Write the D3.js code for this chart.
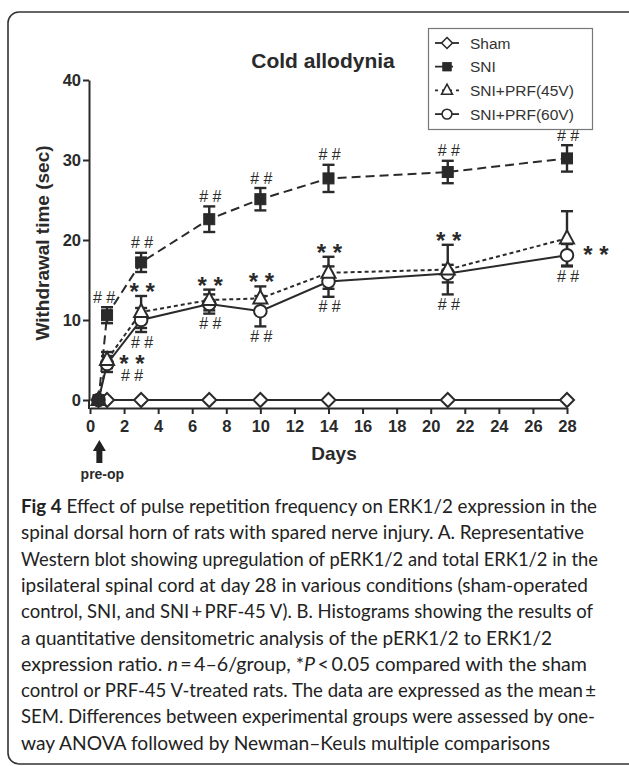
<!DOCTYPE html>
<html>
<head>
<meta charset="utf-8">
<script src="https://cdn.jsdelivr.net/npm/d3@7/dist/d3.min.js"></script>
<style>
  html, body { margin: 0; padding: 0; background: #fff; }
  svg { display: block; }
</style>
</head>
<body>
<svg id="chart" width="629" height="766"></svg>
<script>
// ---------- data ----------
const days      = [0.5, 1, 3, 7, 10, 14, 21, 28];
const shamMean  = [0, 0, 0, 0, 0, 0, 0, 0];
const shamErr   = [0, 0, 0, 0, 0, 0, 0, 0];
const sniMean   = [0, 10.6, 17.2, 22.6, 25.1, 27.7, 28.5, 30.2];
const sniErr    = [0.3, 1.0, 1.2, 1.6, 1.4, 1.7, 1.4, 1.65];
const prf45Mean = [0, 5.0, 11.0, 12.5, 12.7, 15.9, 16.3, 20.2];
const prf45Err  = [0.3, 1.0, 2.0, 1.3, 1.5, 2.0, 3.1, 3.4];
const prf60Mean = [0, 4.5, 10.0, 12.0, 11.1, 14.8, 15.8, 18.1];
const prf60Err  = [0.3, 1.0, 1.5, 1.2, 1.9, 1.9, 1.1, 1.4];
const seriesNames = ["Sham", "SNI", "SNI+PRF(45V)", "SNI+PRF(60V)"];
const xTicks = [0, 2, 4, 6, 8, 10, 12, 14, 16, 18, 20, 22, 24, 26, 28];
const yTicks = [0, 10, 20, 30, 40];
const sniHashDays  = [1, 3, 7, 10, 14, 21, 28];
const starDays     = [3, 7, 10, 14, 21, 28];
const hashBelowDays = [3, 7, 10, 14, 21, 28];
const titleText = "Cold allodynia";
const yLabel = "Withdrawal time (sec)";
const xLabel = "Days";
const captionLines = [
  [["b","Fig 4"],["r"," Effect of pulse repetition frequency on ERK1/2 expression in the"]],
  [["r","spinal dorsal horn of rats with spared nerve injury. A. Representative"]],
  [["r","Western blot showing upregulation of pERK1/2 and total ERK1/2 in the"]],
  [["r","ipsilateral spinal cord at day 28 in various conditions (sham-operated"]],
  [["r","control, SNI, and SNI\u2009+\u2009PRF-45 V). B. Histograms showing the results of"]],
  [["r","a quantitative densitometric analysis of the pERK1/2 to ERK1/2"]],
  [["r","expression ratio. "],["i","n"],["r","\u2009=\u20094\u20136/group, *"],["i","P"],["r","\u2009<\u20090.05 compared with the sham"]],
  [["r","control or PRF-45 V-treated rats. The data are expressed as the mean\u2009\u00b1"]],
  [["r","SEM. Differences between experimental groups were assessed by one-"]],
  [["r","way ANOVA followed by Newman\u2013Keuls multiple comparisons"]]
];
const captionEnds = [597, 584, 598, 588, 593, 552, 587, 596, 595, 550];

// ---------- setup ----------
const svg = d3.select("#chart");
const ink = "#2a2a2a";
const x = d3.scaleLinear().domain([0, 28]).range([90, 567]);
const y = d3.scaleLinear().domain([0, 40]).range([400, 80]);
const xAxisY = 408, yAxisX = 89;

// frame
svg.append("rect").attr("x", 8).attr("y", 12).attr("width", 640).attr("height", 752)
  .attr("rx", 11).attr("fill", "none").attr("stroke", "#333").attr("stroke-width", 1.6);

// title
svg.append("text").attr("x", 323).attr("y", 68).attr("text-anchor", "middle")
  .attr("font-family", "Liberation Sans, Arial, sans-serif").attr("font-weight", "bold")
  .attr("font-size", 21).attr("fill", ink).text(titleText);

// axes
const xAxis = d3.axisBottom(x).tickValues(xTicks).tickSize(6).tickSizeOuter(0).tickPadding(4);
const gx = svg.append("g").attr("transform", `translate(0,${xAxisY})`).call(xAxis);
const yAxis = d3.axisLeft(y).tickValues(yTicks).tickSize(6).tickSizeOuter(0).tickPadding(2);
const gy = svg.append("g").attr("transform", `translate(${yAxisX},0)`).call(yAxis);
[gx, gy].forEach(g => {
  g.selectAll("path.domain").attr("stroke", ink).attr("stroke-width", 2);
  g.selectAll(".tick line").attr("stroke", ink).attr("stroke-width", 2);
  g.selectAll(".tick text").attr("font-family", "Liberation Sans, Arial, sans-serif")
    .attr("font-weight", "bold").attr("font-size", 16.5).attr("fill", ink);
});
gy.append("line").attr("x1", 0).attr("x2", 0).attr("y1", y(0)).attr("y2", xAxisY + 1)
  .attr("stroke", ink).attr("stroke-width", 2);
gx.selectAll(".tick text").attr("dy", "0.85em");

// axis labels
svg.append("text").attr("transform", `translate(49,243) rotate(-90)`).attr("text-anchor", "middle")
  .attr("font-family", "Liberation Sans, Arial, sans-serif").attr("font-weight", "bold")
  .attr("font-size", 19).attr("fill", ink).text(yLabel);
svg.append("text").attr("x", 334).attr("y", 460).attr("text-anchor", "middle")
  .attr("font-family", "Liberation Sans, Arial, sans-serif").attr("font-weight", "bold")
  .attr("font-size", 19).attr("fill", ink).text(xLabel);

// pre-op arrow
const ax = x(0.55);
svg.append("path")
  .attr("d", `M${ax},440 L${ax+6.5},451 L${ax+3},451 L${ax+3},463 L${ax-3},463 L${ax-3},451 L${ax-6.5},451 Z`)
  .attr("fill", "#222");
svg.append("text").attr("x", ax + 3).attr("y", 479).attr("text-anchor", "middle")
  .attr("font-family", "Liberation Sans, Arial, sans-serif").attr("font-weight", "bold")
  .attr("font-size", 14).attr("fill", ink).text("pre-op");

// ---------- series ----------
const series = [
  { name: seriesNames[0], mean: shamMean,  err: shamErr,  dash: null,  marker: "diamond" },
  { name: seriesNames[3], mean: prf60Mean, err: prf60Err, dash: null,  marker: "circle" },
  { name: seriesNames[2], mean: prf45Mean, err: prf45Err, dash: "4,3", marker: "triangle" },
  { name: seriesNames[1], mean: sniMean,   err: sniErr,   dash: "9,5", marker: "square" }
];

function drawMarker(g, type, cx, cy) {
  if (type === "square") {
    g.append("rect").attr("x", cx - 5.5).attr("y", cy - 5.5).attr("width", 11).attr("height", 11)
      .attr("fill", "#2a2a2a").attr("stroke", "#2a2a2a").attr("stroke-width", 1);
  } else if (type === "circle") {
    g.append("circle").attr("cx", cx).attr("cy", cy).attr("r", 6.3)
      .attr("fill", "#fff").attr("stroke", ink).attr("stroke-width", 2);
  } else if (type === "triangle") {
    g.append("path").attr("d", `M${cx},${cy-8} L${cx+7},${cy+5} L${cx-7},${cy+5} Z`)
      .attr("fill", "#fff").attr("stroke", ink).attr("stroke-width", 2);
  } else if (type === "diamond") {
    g.append("path").attr("d", `M${cx},${cy-7} L${cx+7},${cy} L${cx},${cy+7} L${cx-7},${cy} Z`)
      .attr("fill", "#fff").attr("stroke", ink).attr("stroke-width", 2);
  }
}

const lineGen = (s) => d3.line().x((d, i) => x(days[i])).y(d => y(d))(s.mean);
const plot = svg.append("g");
series.forEach(s => {
  plot.append("path").attr("d", lineGen(s)).attr("fill", "none").attr("stroke", ink)
    .attr("stroke-width", 2).attr("stroke-dasharray", s.dash);
});
series.forEach(s => {
  s.mean.forEach((m, i) => {
    if (s.err[i] <= 0) return;
    const cx = x(days[i]);
    const g = plot.append("g").attr("stroke", ink).attr("stroke-width", 2.4);
    g.append("line").attr("x1", cx).attr("x2", cx).attr("y1", y(m + s.err[i])).attr("y2", y(m - s.err[i]));
    [m + s.err[i], m - s.err[i]].forEach(v =>
      g.append("line").attr("x1", cx - 6).attr("x2", cx + 6).attr("y1", y(v)).attr("y2", y(v)));
  });
});
series.forEach(s => {
  s.mean.forEach((m, i) => drawMarker(plot, s.marker, x(days[i]), y(m)));
});

// ---------- significance marks ----------
const annFont = "Liberation Sans, Arial, sans-serif";
function hash(cx, cyCenter) {
  svg.append("text").attr("x", cx).attr("y", cyCenter + 5.5).attr("text-anchor", "middle")
    .attr("font-family", annFont).attr("font-size", 16).attr("fill", ink).text("# #");
}
function stars(cx, cyCenter) {
  svg.append("text").attr("x", cx).attr("y", cyCenter + 13).attr("text-anchor", "middle")
    .attr("font-family", annFont).attr("font-weight", "bold").attr("font-size", 24).attr("fill", ink).text("* *");
}
const idx = d => days.indexOf(d);
sniHashDays.forEach(d => {
  const i = idx(d);
  const top = y(sniMean[i] + sniErr[i]);
  hash(x(d) + (d === 1 ? -3 : 1), top - 10);
});
starDays.forEach(d => {
  const i = idx(d);
  if (d === 28) { stars(x(d) + 29, y(prf60Mean[i]) - 5); return; }
  const top = Math.min(y(prf45Mean[i] + prf45Err[i]), y(prf60Mean[i] + prf60Err[i]));
  stars(x(d) + 1, top - 9);
});
hashBelowDays.forEach(d => {
  const i = idx(d);
  const bot = Math.max(y(prf45Mean[i] - prf45Err[i]), y(prf60Mean[i] - prf60Err[i]));
  hash(x(d) + 1, bot + 10);
});
// day 1: stacked "* *" over "# #" to the right of the point (one text block)
{
  const i = idx(1), cx = x(1) + 25, cy = y(prf45Mean[i]);
  const t = svg.append("text").attr("text-anchor", "middle").attr("font-family", annFont).attr("fill", ink);
  t.append("tspan").attr("x", cx).attr("y", cy + 12).attr("font-weight", "bold").attr("font-size", 24).text("* *");
  t.append("tspan").attr("x", cx).attr("y", cy + 21).attr("font-size", 16).text("# #");
}

// ---------- legend ----------
const lg = svg.append("g");
lg.append("rect").attr("x", 428.5).attr("y", 28.5).attr("width", 164).attr("height", 101)
  .attr("fill", "#fff").attr("stroke", "#777").attr("stroke-width", 1.2);
const legendOrder = [series[0], series[3], series[2], series[1]];
legendOrder.forEach((s, k) => {
  const ry = 43 + k * 23.7;
  lg.append("line").attr("x1", 435).attr("x2", 459).attr("y1", ry).attr("y2", ry)
    .attr("stroke", ink).attr("stroke-width", 1.8).attr("stroke-dasharray", s.dash ? (s.marker === "square" ? "9,7,2" : "3,4") : null);
  const mg = lg.append("g").attr("transform", `translate(447,${ry}) scale(0.78) translate(-447,${-ry})`);
  drawMarker(mg, s.marker, 447, ry);
  lg.append("text").attr("x", 470).attr("y", ry + 5.5).attr("font-family", annFont)
    .attr("font-size", 15.5).attr("fill", "#333").text(s.name);
});

// ---------- caption ----------
captionLines.forEach((parts, k) => {
  const t = svg.append("text").attr("x", 21).attr("y", 513 + k * 26.3)
    .attr("font-family", "Lato, 'Open Sans', sans-serif").attr("font-size", 19).attr("fill", "#222")
    .attr("textLength", captionEnds[k] - 21).attr("lengthAdjust", "spacingAndGlyphs");
  parts.forEach(([st, str]) => {
    const ts = t.append("tspan").text(str);
    if (st === "b") ts.attr("font-weight", "bold");
    if (st === "i") ts.attr("font-style", "italic");
  });
});
</script>
</body>
</html>
